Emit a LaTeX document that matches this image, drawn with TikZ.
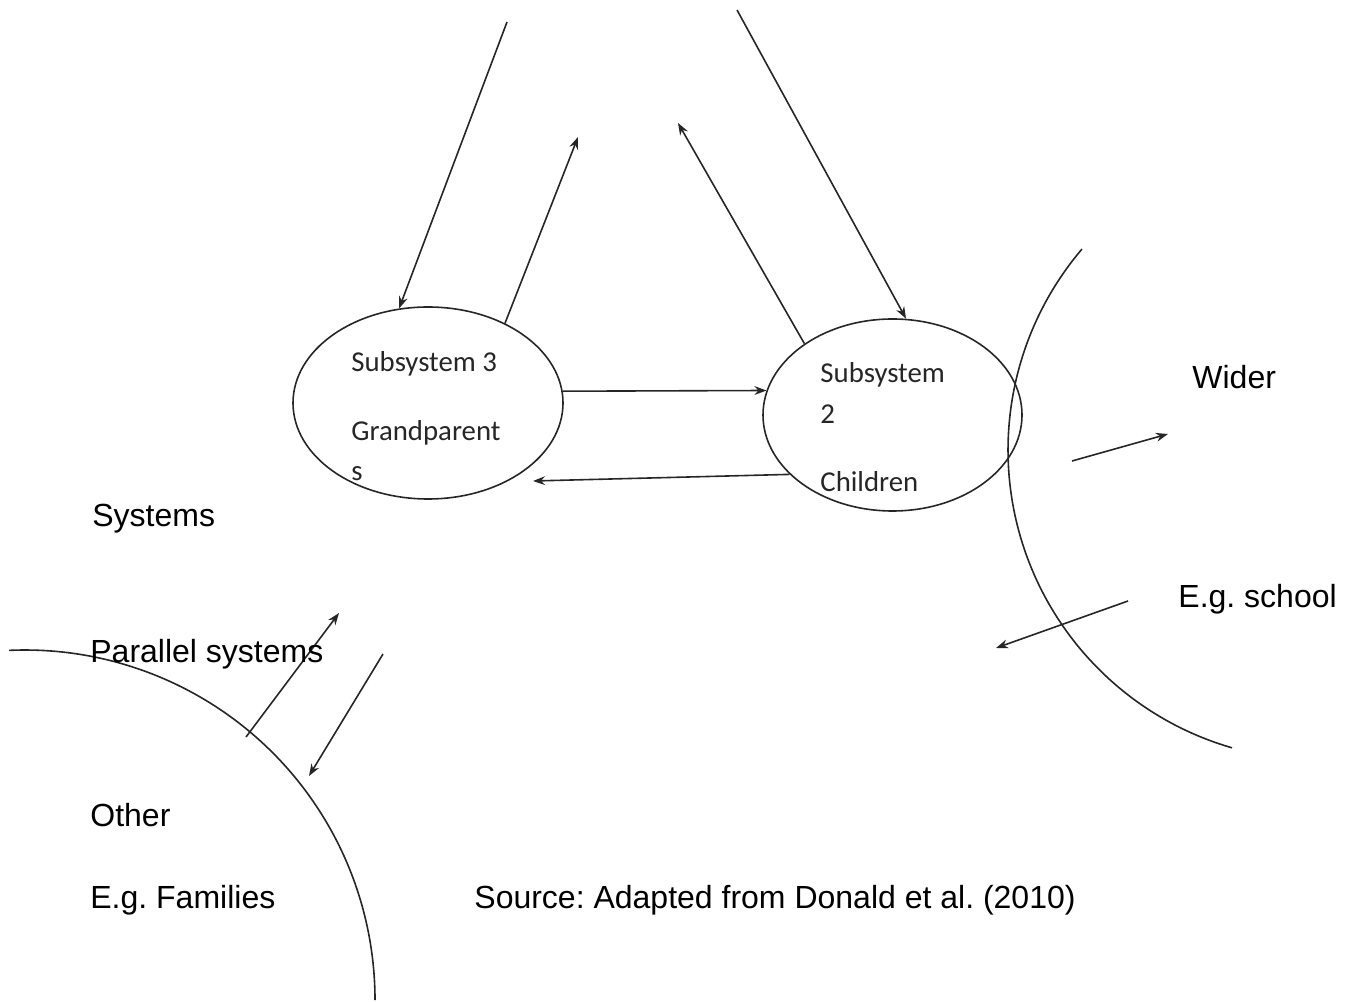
\documentclass[tikz,border=0pt]{standalone}
\usepackage{fontspec}
\setmainfont{Liberation Sans}
\newfontfamily\calibrifont{Carlito}
\usetikzlibrary{arrows.meta,shapes.geometric}
\frenchspacing

\tikzset{
  line/.style={draw=black!85, line width=0.8pt},
  flow/.style={line, -{Stealth[length=6pt,width=4.4pt]}},
  subsys/.style={line, ellipse, inner sep=0pt},
  label/.style={anchor=base west, inner sep=0pt, font=\fontsize{16}{19}\selectfont},
  inlabel/.style={anchor=base west, inner sep=0pt, text=black!85, font=\calibrifont\fontsize{14.4}{17}\selectfont},
}

\begin{document}
\begin{tikzpicture}[x=0.5pt, y=0.5pt]
  \useasboundingbox (0,0) rectangle (1347,1001);

  % the two subsystems
  \node[subsys, minimum width=135pt, minimum height=96pt] (e3) at (428,598) {};
  \node[subsys, minimum width=129.5pt, minimum height=96pt] (e2) at (892.5,586) {};

  \node[inlabel] (t3a) at (351,629) {Subsystem 3};
  \node[inlabel] (t3b) at (351,560) {Grandparent};
  \node[inlabel] (t3c) at (351,520) {s};
  \node[inlabel] (t2a) at (820,618) {Subsystem};
  \node[inlabel] (t2b) at (820,577) {2};
  \node[inlabel] (t2c) at (820,509) {Children};

  % wider and parallel system boundaries
  \draw[line] (1318,551) ++(139.6:310) arc[start angle=139.6, end angle=253.9, radius=310];
  \draw[line] (25,1) ++(92.6:350) arc[start angle=92.6, end angle=0, radius=350];

  % loose arrow ends
  \coordinate (a1) at (507,979);
  \coordinate (a2) at (578,864);
  \coordinate (a3) at (678,878);
  \coordinate (a4) at (737,991);
  \coordinate (a6) at (533,520);
  \coordinate (w1) at (1072,540);
  \coordinate (w2) at (1168,567);
  \coordinate (s1) at (1128,400);
  \coordinate (s2) at (996,353);
  \coordinate (p1) at (246,264);
  \coordinate (p2) at (339,388);
  \coordinate (p3) at (383,347);
  \coordinate (p4) at (309,225);

  % connectors
  \draw[flow] (a1) -- (e3.107.5);
  \draw[flow] (e3.46.5) -- (a2);
  \draw[flow] (e2.141.6) -- (a3);
  \draw[flow] (a4) -- (e2.82.8);
  \draw[flow] (e3.5.5) -- (e2.169);
  \draw[flow] (e2.210.4) -- (a6);
  \draw[flow] (w1) -- (w2);
  \draw[flow] (s1) -- (s2);
  \draw[flow] (p1) -- (p2);
  \draw[flow] (p3) -- (p4);

  % labels
  \node[label] (wider) at (1192,612) {Wider};
  \node[label] (school) at (1178,393) {E.g. school};
  \node[label] (systems) at (92,474) {Systems};
  \node[label] (parallel) at (90,338) {Parallel systems};
  \node[label] (other) at (90,175) {Other};
  \node[label] (families) at (90,93) {E.g. Families};
  \node[label] (source) at (474,93) {Source: Adapted from Donald et al. (2010)};
\end{tikzpicture}
\end{document}
